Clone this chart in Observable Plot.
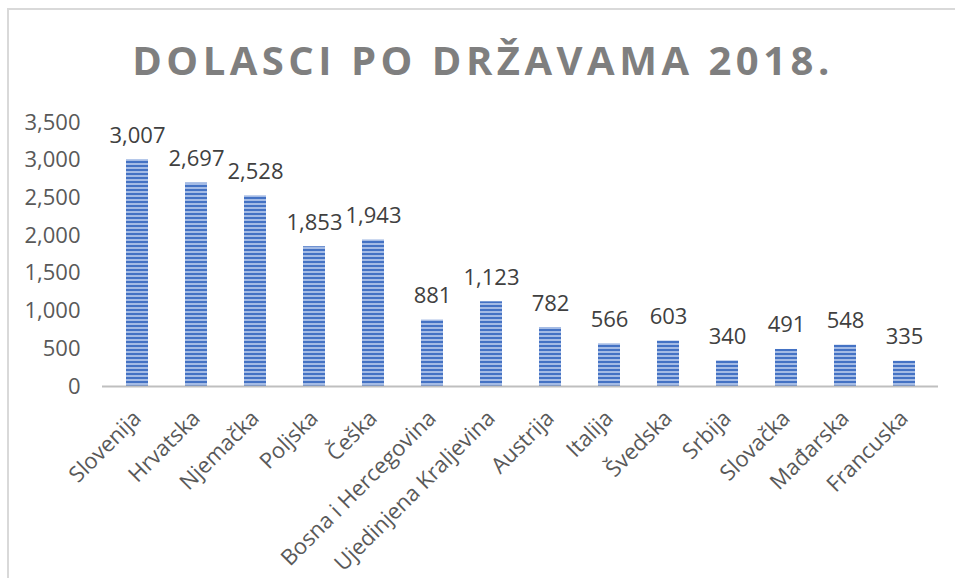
<!DOCTYPE html>
<html>
<head>
<meta charset="utf-8">
<script src="https://cdn.jsdelivr.net/npm/d3@7"></script>
<script src="https://cdn.jsdelivr.net/npm/@observablehq/plot@0.6"></script>
<style>
  html, body { margin: 0; padding: 0; background: #fff; }
  #wrap { position: relative; width: 955px; height: 578px; overflow: hidden; }
  #frame { position: absolute; left: 7px; top: 8px; width: 1000px; height: 700px; border: 2px solid #d9d9d9; box-sizing: border-box; }
  #title { position: absolute; left: 0; top: 32px; width: 966px; text-align: center; font-family: "Open Sans", sans-serif; font-weight: 700; font-size: 40px; letter-spacing: 4.5px; color: #7f7f7f; line-height: 56px; white-space: nowrap; }
  #chart { position: absolute; left: 0; top: 105px; }
  #chart svg { overflow: visible; }
</style>
</head>
<body>
<div id="wrap">
  <div id="frame"></div>
  <div id="title">DOLASCI PO DRŽAVAMA 2018.</div>
  <div id="chart"></div>
</div>
<script>
const countries = ["Slovenija", "Hrvatska", "Njemačka", "Poljska", "Češka", "Bosna i Hercegovina", "Ujedinjena Kraljevina", "Austrija", "Italija", "Švedska", "Srbija", "Slovačka", "Mađarska", "Francuska"];
const arrivals = [3007, 2697, 2528, 1853, 1943, 881, 1123, 782, 566, 603, 340, 491, 548, 335];
const yTicks = [0, 500, 1000, 1500, 2000, 2500, 3000, 3500];

const data = countries.map((c, i) => ({country: c, value: arrivals[i]}));
const fmt = d3.format(",");

const plot = Plot.plot({
  width: 955,
  height: 473,
  marginTop: 17,
  marginBottom: 192,
  marginLeft: 102,
  marginRight: 17,
  style: {fontFamily: "'Open Sans', sans-serif", fontSize: "22px", background: "transparent", overflow: "visible"},
  x: {domain: countries, paddingInner: 0.63, paddingOuter: 0.315, label: null},
  y: {domain: [0, 3500], label: null},
  marks: [
    Plot.barY(data, {x: "country", y: "value", fill: "url(#stripes)"}),
    Plot.ruleY([0], {stroke: "#bfbfbf", strokeWidth: 2}),
    Plot.text(data, {x: "country", y: "value", text: d => fmt(d.value), lineAnchor: "bottom", dy: -17, fill: "#404040", fontSize: 22}),
    Plot.axisY({ticks: yTicks, tickFormat: fmt, tickSize: 0, tickPadding: 22, fill: "#595959", fontSize: 22, label: null}),
    Plot.axisX({tickSize: 0, tickPadding: 28, tickRotate: -45, fill: "#595959", fontSize: 22, label: null})
  ]
});

const ns = "http://www.w3.org/2000/svg";
const defs = document.createElementNS(ns, "defs");
defs.innerHTML = `<pattern id="stripes" patternUnits="userSpaceOnUse" width="8" height="4">
  <rect width="8" height="4" fill="#a4bbe5"/>
  <rect y="0" width="8" height="2" fill="#4472c4"/>
</pattern>`;
plot.insertBefore(defs, plot.firstChild);
document.getElementById("chart").appendChild(plot);
</script>
</body>
</html>
